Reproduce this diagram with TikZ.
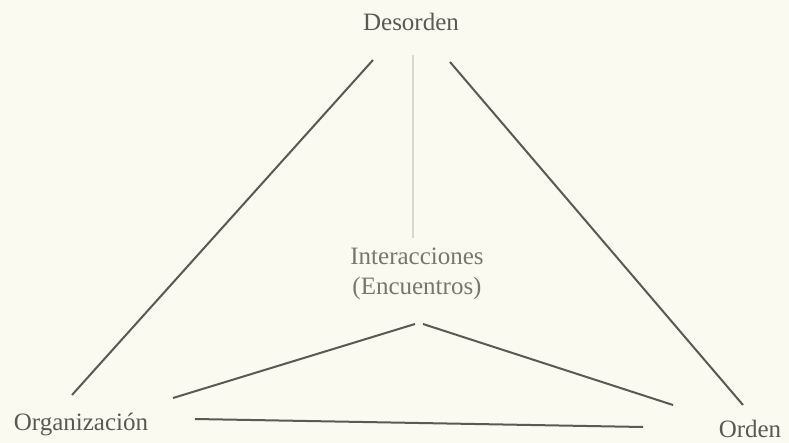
\documentclass[tikz,border=0pt]{standalone}
\usepackage{fontspec}
\setmainfont{Liberation Serif}
\definecolor{paper}{HTML}{FBFAF0}
\definecolor{ink}{HTML}{5A5A55}
\definecolor{inkl}{HTML}{77776F}
\definecolor{faint}{HTML}{D8D8D0}
\begin{document}
\begin{tikzpicture}[x=1pt,y=-1pt,
  lbl/.style={inner sep=0pt, text=ink, font=\fontsize{25}{27}\selectfont},
  lbl2/.style={inner sep=0pt, text=inkl, font=\fontsize{25}{30}\selectfont, align=center},
  link/.style={draw=ink, line width=2pt},
  faintlink/.style={draw=faint, line width=1.5pt}]
\fill[paper] (0,0) rectangle (789,443);
\useasboundingbox (0,0) rectangle (789,443);
% labels
\node[lbl] (des) at (411,22) {Desorden};
\node[lbl] (org) at (81,425) {Organización};
\node[lbl] (ord) at (750,429) {Orden};
\node[lbl2] (int) at (417,274) {Interacciones\\(Encuentros)};
% connector endpoints
\coordinate (dl) at (373,60);
\coordinate (ol) at (72,395);
\coordinate (dr) at (450,62);
\coordinate (orr) at (743,405);
\coordinate (dv) at (413,55);
\coordinate (iv) at (413,238);
\coordinate (ia) at (415,324);
\coordinate (ib) at (423,324);
\coordinate (ov) at (173,398);
\coordinate (rv) at (673,405);
\coordinate (ob) at (195,419);
\coordinate (rb) at (643,427);
% connectors
\draw[link] (dl) -- (ol);
\draw[link] (dr) -- (orr);
\draw[faintlink] (dv) -- (iv);
\draw[link] (ov) -- (ia);
\draw[link] (ib) -- (rv);
\draw[link] (ob) -- (rb);
\end{tikzpicture}
\end{document}
